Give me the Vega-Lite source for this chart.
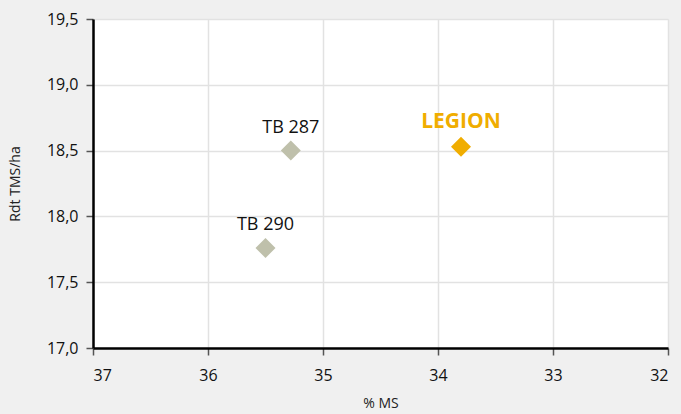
{
  "$schema": "https://vega.github.io/schema/vega-lite/v6.json",
  "width": 575,
  "height": 329,
  "autosize": {"type": "none"},
  "padding": {"left": 93, "top": 19, "right": 13, "bottom": 66},
  "background": "#f0f0f0",
  "config": {
    "view": {"fill": "white", "stroke": null},
    "font": "Open Sans"
  },
  "data": {
    "values": [
      {"name": "TB 287", "ms": 35.28, "rdt": 18.5, "group": "other"},
      {"name": "TB 290", "ms": 35.5, "rdt": 17.76, "group": "other"},
      {"name": "LEGION", "ms": 33.8, "rdt": 18.53, "group": "legion"}
    ]
  },
  "encoding": {
    "x": {
      "field": "ms", "type": "quantitative",
      "scale": {"domain": [32, 37], "reverse": true, "nice": false, "zero": false},
      "axis": {
        "title": "% MS", "titleFont": "Open Sans", "titleFontSize": 14, "titleFontWeight": "normal", "titleColor": "#222",
        "titlePadding": 13,
        "values": [32, 33, 34, 35, 36, 37],
        "labelFontSize": 16, "labelColor": "#111", "labelPadding": 12,
        "tickColor": "#555", "tickSize": 7, "tickWidth": 1.5,
        "domainColor": "#000", "domainWidth": 2.5,
        "gridColor": "#e2e2e2", "gridWidth": 1.5
      }
    },
    "y": {
      "field": "rdt", "type": "quantitative",
      "scale": {"domain": [17, 19.5], "nice": false, "zero": false},
      "axis": {
        "title": "Rdt TMS/ha", "titleFont": "Open Sans", "titleFontSize": 14, "titleFontWeight": "normal", "titleColor": "#222",
        "titlePadding": 24,
        "values": [17, 17.5, 18, 18.5, 19, 19.5],
        "labelExpr": "replace(format(datum.value, '.1f'), '.', ',')",
        "labelFontSize": 16, "labelColor": "#111", "labelPadding": 8,
        "tickColor": "#555", "tickSize": 7, "tickWidth": 1.5,
        "domainColor": "#000", "domainWidth": 2.5,
        "gridColor": "#e2e2e2", "gridWidth": 1.5
      }
    }
  },
  "layer": [
    {
      "mark": {"type": "point", "shape": "diamond", "filled": true, "size": 400, "opacity": 1},
      "encoding": {
        "color": {
          "field": "group", "type": "nominal",
          "scale": {"domain": ["other", "legion"], "range": ["#bfc0ab", "#f0ad00"]},
          "legend": null
        }
      }
    },
    {
      "transform": [{"filter": "datum.group == 'other'"}],
      "mark": {"type": "text", "dy": -23, "fontSize": 18, "color": "#111", "font": "Open Sans"},
      "encoding": {"text": {"field": "name"}}
    },
    {
      "transform": [{"filter": "datum.group == 'legion'"}],
      "mark": {"type": "text", "dy": -25, "fontSize": 21, "fontWeight": "bold", "color": "#f0ad00", "font": "Open Sans"},
      "encoding": {"text": {"field": "name"}}
    }
  ]
}
